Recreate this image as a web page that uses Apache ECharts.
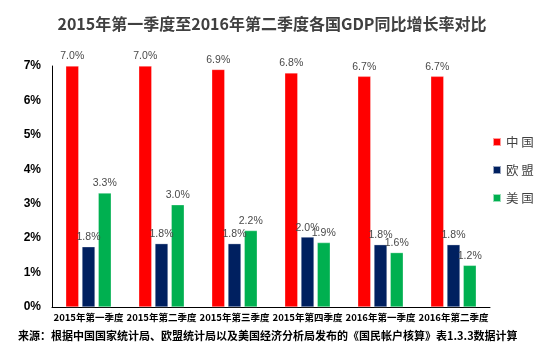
<!DOCTYPE html>
<html><head><meta charset="utf-8">
<script src="https://cdn.jsdelivr.net/npm/echarts@6/dist/echarts.min.js"></script>
<style>html,body{margin:0;padding:0;background:#fff}#c{width:550px;height:359px}</style>
</head><body><div id="c"></div>
<script>
const categories = ['2015年第一季度','2015年第二季度','2015年第三季度','2015年第四季度','2016年第一季度','2016年第二季度'];
const china = [7.0, 7.0, 6.9, 6.8, 6.7, 6.7];
const eu = [1.75, 1.84, 1.84, 2.03, 1.81, 1.81];
const us = [3.31, 2.97, 2.22, 1.87, 1.58, 1.21];
const yTicks = [0,1,2,3,4,5,6,7];
const seriesNames = ['中国','欧盟','美国'];
const colors = ['#FF0000','#002060','#00B050'];

const chart = echarts.init(document.getElementById('c'), null, {renderer:'canvas'});
const lbl = {show:true, position:'top', distance:4, color:'#4a4a4a', fontSize:10.5,
  fontFamily:'Liberation Sans', formatter: p => p.value.toFixed(1) + '%'};
function mk(name, data, color){
  return {name, type:'bar', data, barWidth:13, barGap:'25%',
    itemStyle:{color, borderColor:'rgba(255,255,255,0.6)', borderWidth:0.5},
    label:lbl};
}
chart.setOption({
  animation:false,
  title:{text:'2015年第一季度至2016年第二季度各国GDP同比增长率对比', left:267, top:11,
    textAlign:'center',
    textStyle:{fontSize:16, fontWeight:'bold', color:'#404040', fontFamily:'Noto Sans CJK SC'}},
  legend:{orient:'vertical', left:487, top:130, itemWidth:8, itemHeight:8, itemGap:14,
    icon:'rect', data:seriesNames,
    formatter: n => n.split('').join(' '),
    textStyle:{fontSize:12.5, color:'#404040', fontFamily:'Noto Sans CJK SC', lineHeight:14}},
  grid:{left:52, right:60, top:66, bottom:52, containLabel:false},
  xAxis:{type:'category', data:categories,
    axisLine:{lineStyle:{color:'#000', width:1}}, axisTick:{show:false},
    axisLabel:{interval:0, margin:6, fontSize:9.5, fontWeight:'bold', color:'#000', fontFamily:'Noto Sans CJK SC'}},
  yAxis:{type:'value', min:0, max:7, interval:1,
    axisLine:{show:true, lineStyle:{color:'#000', width:1}}, axisTick:{show:false}, splitLine:{show:false},
    axisLabel:{margin:11, fontSize:12, fontWeight:'bold', color:'#000', fontFamily:'Liberation Sans',
      formatter: v => yTicks.includes(v) ? v + '%' : ''}},
  graphic:[{type:'text', left:18, top:330,
    style:{text:'来源：根据中国国家统计局、欧盟统计局以及美国经济分析局发布的《国民帐户核算》表1.3.3数据计算',
      fontSize:11, fontWeight:'bold', fill:'#000', fontFamily:'Noto Sans CJK SC'}}],
  series:[mk(seriesNames[0], china, colors[0]), mk(seriesNames[1], eu, colors[1]), mk(seriesNames[2], us, colors[2])]
});
</script></body></html>
